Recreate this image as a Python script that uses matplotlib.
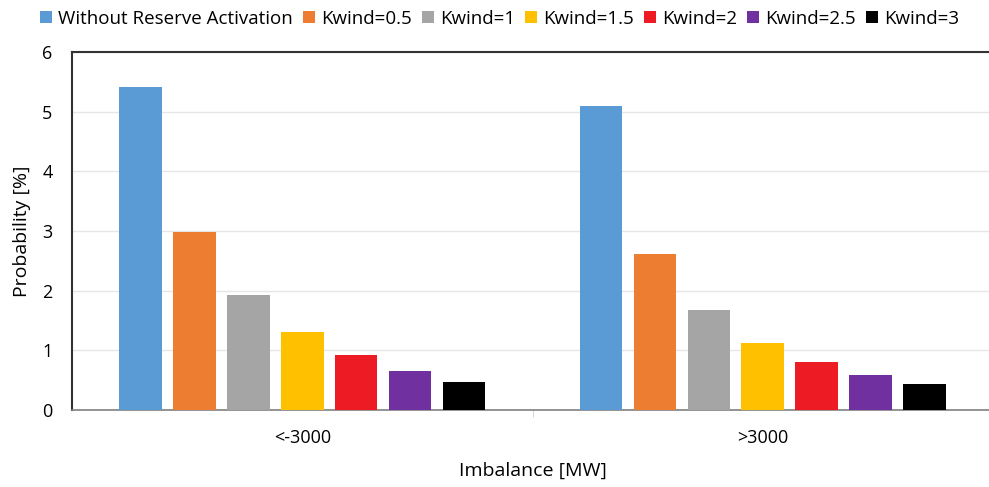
import matplotlib
matplotlib.use("Agg")
import matplotlib.pyplot as plt
import numpy as np

plt.rcParams["font.family"] = ["Open Sans", "DejaVu Sans"]

categories = ["<-3000", ">3000"]
series_names = [
    "Without Reserve Activation",
    "Kwind=0.5",
    "Kwind=1",
    "Kwind=1.5",
    "Kwind=2",
    "Kwind=2.5",
    "Kwind=3",
]
# probability [%] per series, for <-3000 and >3000
values = [
    [5.42, 5.09],
    [2.99, 2.62],
    [1.93, 1.68],
    [1.31, 1.12],
    [0.92, 0.80],
    [0.65, 0.58],
    [0.47, 0.43],
]
colours = ["#5b9bd5", "#ed7d31", "#a5a5a5", "#ffc000", "#ed1c24", "#7030a0", "#000000"]

fig = plt.figure(figsize=(9.89, 4.87), dpi=100)
ax = fig.add_axes([72 / 989, 1 - 410 / 487, 921 / 989, 358 / 487])

x = np.arange(len(categories))
step = 0.117
width = 0.0925
for i, (name, vals, col) in enumerate(zip(series_names, values, colours)):
    offset = (i - (len(series_names) - 1) / 2) * step
    ax.bar(x + offset, vals, width, color=col, label=name, zorder=3)

ax.set_xlim(-0.5, 1.5)
ax.set_ylim(0, 6)
ax.set_yticks(range(0, 7))
ax.set_xticks(x)
ax.set_xticklabels(categories)
ax.set_xticks([0.5], minor=True)
ax.tick_params(axis="x", which="minor", length=5, color="#d0d0d0")
ax.tick_params(axis="x", which="major", length=0, pad=14, labelsize=13)
ax.tick_params(axis="y", length=0, pad=14, labelsize=13)

ax.grid(axis="y", color="#e6e6e6", linewidth=1, zorder=0)
ax.spines["right"].set_visible(False)
ax.spines["top"].set_color("#333333")
ax.spines["top"].set_linewidth(1.5)
ax.spines["left"].set_color("#333333")
ax.spines["left"].set_linewidth(1.5)
ax.spines["bottom"].set_color("#808080")
ax.spines["bottom"].set_linewidth(1.2)

ax.set_xlabel("Imbalance [MW]", fontsize=14, labelpad=10)
ax.set_ylabel("Probability [%]", fontsize=14, labelpad=8)

fig.legend(
    loc="upper center",
    bbox_to_anchor=(0.505, 1.015),
    ncol=7,
    frameon=False,
    fontsize=13.5,
    handlelength=0.65,
    handleheight=0.65,
    handletextpad=0.3,
    columnspacing=0.55,
)

fig.savefig("out.png", dpi=100)
